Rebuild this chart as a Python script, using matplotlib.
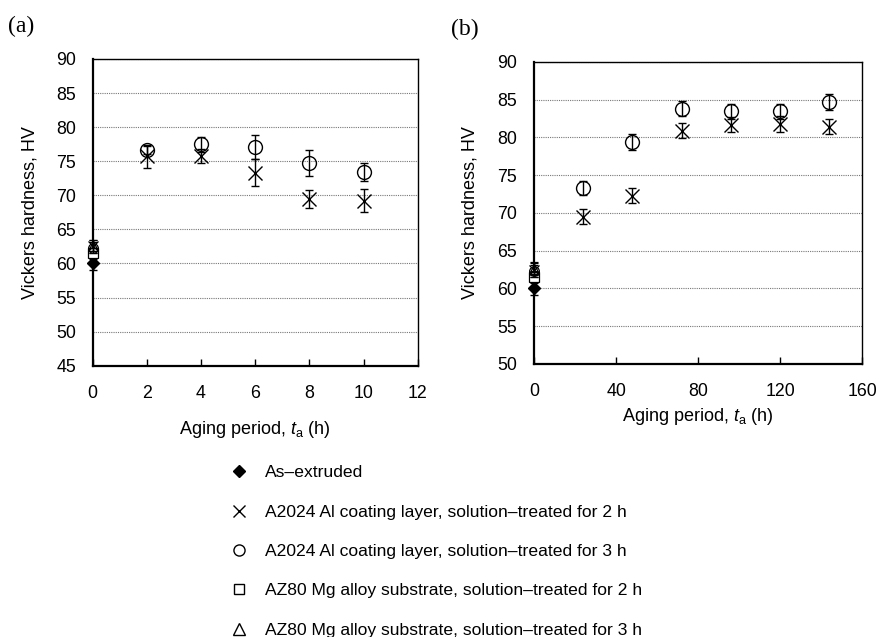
import numpy as np
import matplotlib
matplotlib.use("Agg")
import matplotlib.pyplot as plt
from matplotlib.lines import Line2D
from matplotlib import rcParams

rcParams['font.family'] = 'Liberation Sans'
rcParams['mathtext.fontset'] = 'custom'
rcParams['mathtext.rm'] = 'Liberation Sans'
rcParams['mathtext.it'] = 'Liberation Sans:italic'

# ---- data (a): short aging times ----
ta_a = [2, 4, 6, 8, 10]
hv_2h_a = [75.7, 75.8, 73.3, 69.5, 69.2]
err_2h_a = [1.7, 1.05, 2.0, 1.35, 1.7]
hv_3h_a = [76.7, 77.5, 77.1, 74.8, 73.4]
err_3h_a = [0.6, 1.1, 1.8, 1.9, 1.35]

# ---- data (b): long aging times ----
ta_b = [24, 48, 72, 96, 120, 144]
hv_2h_b = [69.5, 72.3, 80.9, 81.7, 81.8, 81.4]
err_2h_b = [1.0, 0.95, 1.0, 0.95, 1.05, 1.0]
hv_3h_b = [73.3, 79.4, 83.8, 83.5, 83.5, 84.7]
err_3h_b = [0.95, 1.0, 1.0, 1.0, 1.0, 1.0]

# ---- initial state (t = 0) ----
hv_extruded, err_extruded = 60.0, 0.9
hv0_x, err0_x = 62.5, 1.0
hv0_o, err0_o = 62.3, 0.8
hv0_sq, err0_sq = 61.5, 0.8
hv0_tri, err0_tri = 62.6, 0.8

labels = ['As\u2013extruded',
          'A2024 Al coating layer, solution\u2013treated for 2 h',
          'A2024 Al coating layer, solution\u2013treated for 3 h',
          'AZ80 Mg alloy substrate, solution\u2013treated for 2 h',
          'AZ80 Mg alloy substrate, solution\u2013treated for 3 h']

fig = plt.figure(figsize=(8.77, 6.37), dpi=100)
ax_a = fig.add_axes([0.1057, 0.4259, 0.3706, 0.4815])
ax_b = fig.add_axes([0.6089, 0.4286, 0.3743, 0.4741])

eb = dict(ecolor='k', elinewidth=1.0, capsize=3.2, capthick=1.0, linestyle='none')


def draw_initial(ax):
    ax.errorbar([0], [hv_extruded], yerr=[err_extruded], fmt='D', ms=6,
                mfc='k', mec='k', zorder=5, clip_on=False, **eb)
    ax.errorbar([0], [hv0_sq], yerr=[err0_sq], fmt='s', ms=7,
                mfc='white', mec='k', mew=0.9, zorder=5, clip_on=False, **eb)
    ax.errorbar([0], [hv0_tri], yerr=[err0_tri], fmt='^', ms=7,
                mfc='none', mec='k', mew=0.9, zorder=6, clip_on=False, **eb)
    ax.errorbar([0], [hv0_o], yerr=[err0_o], fmt='o', ms=7,
                mfc='none', mec='k', mew=0.9, zorder=6, clip_on=False, **eb)
    ax.errorbar([0], [hv0_x], yerr=[err0_x], fmt='x', ms=7,
                mec='k', mew=0.9, zorder=6, clip_on=False, **eb)


def style(ax, xlim, xticks, ylim, yticks, xlabelpad, ylabelpad):
    ax.set_xlim(xlim)
    ax.set_ylim(ylim)
    ax.set_xticks(xticks)
    ax.set_yticks(yticks)
    ax.yaxis.grid(True, linestyle=(0, (1, 1)), color='#777777', linewidth=0.8)
    ax.set_axisbelow(True)
    ax.tick_params(axis='x', direction='in', length=5, width=1, pad=14, labelsize=12.8)
    ax.tick_params(axis='y', length=0, pad=12, labelsize=12.8)
    for s in ['top', 'right']:
        ax.spines[s].set_linewidth(1.0)
    for s in ['left', 'bottom']:
        ax.spines[s].set_linewidth(1.6)
    ax.set_ylabel('Vickers hardness, HV', fontsize=13, labelpad=ylabelpad)
    ax.set_xlabel(r'Aging period, $t_\mathrm{a}$ (h)', fontsize=13, labelpad=xlabelpad)


# panel (a)
ax_a.errorbar(ta_a, hv_3h_a, yerr=err_3h_a, fmt='o', ms=10, mfc='none', mec='k', mew=1.0, **eb)
ax_a.errorbar(ta_a, hv_2h_a, yerr=err_2h_a, fmt='x', ms=10, mec='k', mew=1.0, **eb)
draw_initial(ax_a)
style(ax_a, (0, 12), np.arange(0, 13, 2), (45, 90), np.arange(45, 91, 5), 12, 13)

# panel (b)
ax_b.errorbar(ta_b, hv_3h_b, yerr=err_3h_b, fmt='o', ms=10, mfc='none', mec='k', mew=1.0, **eb)
ax_b.errorbar(ta_b, hv_2h_b, yerr=err_2h_b, fmt='x', ms=10, mec='k', mew=1.0, **eb)
draw_initial(ax_b)
style(ax_b, (0, 160), np.arange(0, 161, 40), (50, 90), np.arange(50, 91, 5), 4, 14)

fig.text(0.009, 0.958, '(a)', fontsize=17, family='Liberation Serif', va='center')
fig.text(0.514, 0.953, '(b)', fontsize=17, family='Liberation Serif', va='center')

handles = [
    Line2D([], [], marker='D', ms=6, mfc='k', mec='k', ls='none'),
    Line2D([], [], marker='x', ms=8, mec='k', mew=1.0, ls='none'),
    Line2D([], [], marker='o', ms=8, mfc='none', mec='k', mew=1.0, ls='none'),
    Line2D([], [], marker='s', ms=7.5, mfc='none', mec='k', mew=1.0, ls='none'),
    Line2D([], [], marker='^', ms=9, mfc='none', mec='k', mew=1.0, ls='none'),
]
fig.legend(handles, labels, loc='upper left', bbox_to_anchor=(0.254, 0.281),
           frameon=False, fontsize=12.6, labelspacing=1.38, handletextpad=1.0,
           handlelength=1.0, borderaxespad=0)

fig.savefig('out.png', dpi=100)
